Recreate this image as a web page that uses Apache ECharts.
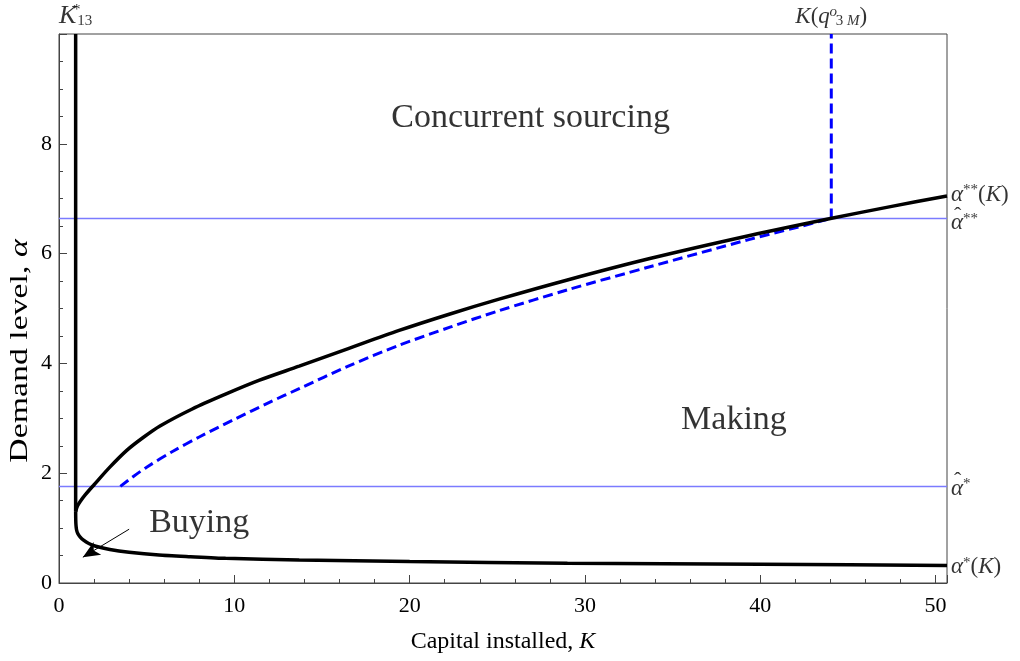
<!DOCTYPE html>
<html>
<head>
<meta charset="utf-8">
<script src="https://cdn.jsdelivr.net/npm/echarts@6/dist/echarts.min.js"></script>
<style>html,body{margin:0;padding:0;background:#fff}#c{width:1020px;height:661px}</style>
</head>
<body>
<div id="c"></div>
<script>
// ---- data ----
const xTickLabels = ['0', '10', '20', '30', '40', '50'];
const yTickLabels = ['0', '2', '4', '6', '8'];
const kMax = 50.65;
const alphaMax = 10;
const k13Star = 0.95;
const kq3M = 44.05;
const alphaHatStar = 1.76;
const alphaHatStarStar = 6.64;

// upper boundary alpha**(K)
const alphaStarStarCurve = [
  [0.95, 1.30], [1.05, 1.40], [1.2, 1.48], [1.48, 1.60], [2.0, 1.79], [2.9, 2.11],
  [3.88, 2.42], [4.8, 2.65], [5.76, 2.86], [7.6, 3.17], [9.5, 3.44], [11.4, 3.69],
  [13.7, 3.95], [16.5, 4.27], [19.4, 4.60], [22.3, 4.90], [25.1, 5.17], [29, 5.52],
  [33.7, 5.91], [39.4, 6.33], [44, 6.64], [47.5, 6.86], [50.65, 7.05]
];
// lower boundary alpha*(K)
const alphaStarCurve = [
  [0.95, 1.30], [0.955, 1.15], [0.97, 1.05], [1.0, 0.97], [1.07, 0.90], [1.2, 0.84],
  [1.4, 0.78], [1.7, 0.72], [2.1, 0.67], [2.9, 0.61], [4, 0.56], [5.7, 0.51],
  [7.5, 0.48], [9.5, 0.45], [13.7, 0.42], [20, 0.39], [29, 0.36], [40, 0.34], [50.65, 0.32]
];
// dashed blue curve
const qMCurve = [
  [3.5, 1.76], [4.2, 1.93], [5, 2.11], [6.5, 2.40], [8, 2.66], [10, 2.98], [12, 3.29],
  [13.7, 3.54], [16.5, 3.95], [19.4, 4.33], [22.3, 4.66], [25.1, 4.96], [29, 5.34],
  [33.7, 5.76], [39.4, 6.26], [42, 6.47], [44, 6.64]
];
// region labels [K, alpha, text]
const regionLabels = [
  [26.9, 8.47, 'Concurrent sourcing'],
  [38.5, 2.96, 'Making'],
  [8.0, 1.09, 'Buying']
];
// arrow from "Buying" label: start point, arrowhead centre
const buyingArrow = [[4.0, 0.98], [1.36, 0.47]];

const SERIF = 'Liberation Serif, Times New Roman, serif';
const rich = {
  i: { fontFamily: SERIF, fontStyle: 'italic', fontSize: 23, color: '#000', lineHeight: 24 },
  n: { fontFamily: SERIF, fontSize: 23, color: '#000', lineHeight: 24 },
  sup: { fontFamily: SERIF, fontSize: 15, color: '#000', verticalAlign: 'top', lineHeight: 14 },
  supz: { fontFamily: SERIF, fontSize: 15, color: '#000', verticalAlign: 'top', lineHeight: 14, width: 1 },
  supq: { fontFamily: SERIF, fontStyle: 'italic', fontSize: 15, color: '#000', verticalAlign: 'top', lineHeight: 14, width: 1, padding: [0, 0, 0, 3] },
  sub: { fontFamily: SERIF, fontSize: 15, color: '#000', verticalAlign: 'bottom', lineHeight: 12 },
  subq: { fontFamily: SERIF, fontSize: 15, color: '#000', verticalAlign: 'bottom', lineHeight: 12, padding: [0, 0, 0, 2] },
  subi: { fontFamily: SERIF, fontStyle: 'italic', fontSize: 15, color: '#000', verticalAlign: 'bottom', lineHeight: 12 },
  ib: { fontFamily: SERIF, fontStyle: 'italic', fontSize: 26, color: '#000', lineHeight: 26 }
};

const chart = echarts.init(document.getElementById('c'), null, { renderer: 'canvas' });

const lineBase = { type: 'line', showSymbol: false, symbol: 'none', animation: false, silent: true };

function buildOption(arrowRotate) {
  return {
    animation: false,
    backgroundColor: '#fff',
    grid: { left: 59, right: 73, top: 34, bottom: 78, show: true, borderColor: '#444', borderWidth: 1, backgroundColor: 'transparent' },
    xAxis: [{
      type: 'value', min: 0, max: kMax, interval: 10, position: 'bottom',
      axisLine: { show: true, lineStyle: { color: '#444', width: 1 } },
      axisTick: { show: true, inside: true, length: 8, lineStyle: { color: '#444', width: 1 } },
      axisLabel: {
        color: '#000', fontFamily: SERIF, fontSize: 22, margin: 12,
        formatter: v => { const i = xTickLabels.indexOf(String(v)); return i >= 0 ? xTickLabels[i] : ''; }
      },
      splitLine: { show: false },
      name: 'Capital installed, {i|K}', nameLocation: 'middle', nameGap: 47,
      nameTextStyle: { color: '#000', fontFamily: SERIF, fontSize: 24, rich: { i: { fontFamily: SERIF, fontStyle: 'italic', fontSize: 24, color: '#000' } } }
    }, {
      type: 'value', min: 0, max: kMax, interval: 2, position: 'bottom',
      axisLine: { show: false },
      axisTick: { show: true, inside: true, length: 4, lineStyle: { color: '#444', width: 1 } },
      axisLabel: { show: false }, splitLine: { show: false }
    }],
    yAxis: [{
      type: 'value', min: 0, max: alphaMax, interval: 2,
      axisLine: { show: true, lineStyle: { color: '#444', width: 1 } },
      axisTick: { show: true, inside: true, length: 8, lineStyle: { color: '#444', width: 1 } },
      minorTick: { show: true, splitNumber: 4, length: 4, lineStyle: { color: '#444', width: 1 } },
      axisLabel: {
        color: '#000', fontFamily: SERIF, fontSize: 22, margin: 7,
        formatter: v => { const i = yTickLabels.indexOf(String(v)); return i >= 0 ? yTickLabels[i] : ''; }
      },
      splitLine: { show: false }, minorSplitLine: { show: false }
    }],
    graphic: [{
      type: 'text', x: 20, y: 351, rotation: Math.PI / 2, scaleX: 1.3,
      style: {
        text: 'Demand level, {i|α}', align: 'center', verticalAlign: 'middle',
        font: '26px ' + SERIF, fill: '#000',
        rich: { i: { fontFamily: SERIF, fontStyle: 'italic', fontSize: 26, fill: '#000' } }
      }
    }],
    series: [
      Object.assign({}, lineBase, { name: 'alphaHatStar', data: [[0, alphaHatStar], [kMax, alphaHatStar]], lineStyle: { color: '#7b7bff', width: 1.5 }, z: 2 }),
      Object.assign({}, lineBase, { name: 'alphaHatStarStar', data: [[0, alphaHatStarStar], [kMax, alphaHatStarStar]], lineStyle: { color: '#7b7bff', width: 1.5 }, z: 2 }),
      Object.assign({}, lineBase, { name: 'qM', data: qMCurve, smooth: 0.3, lineStyle: { color: '#0000ff', width: 3, type: [10, 5] }, z: 3 }),
      Object.assign({}, lineBase, { name: 'Kq3M', data: [[kq3M, alphaHatStarStar], [kq3M, alphaMax]], lineStyle: { color: '#0000ff', width: 3, type: [10, 5] }, z: 3 }),
      Object.assign({}, lineBase, { name: 'alphaStarStar', data: alphaStarStarCurve, smooth: 0.3, lineStyle: { color: '#000', width: 3.5 }, z: 4 }),
      Object.assign({}, lineBase, { name: 'alphaStar', data: alphaStarCurve, smooth: 0.2, lineStyle: { color: '#000', width: 3.5 }, z: 4 }),
      Object.assign({}, lineBase, { name: 'K13', data: [[k13Star, 1.30], [k13Star, alphaMax]], lineStyle: { color: '#000', width: 3.5 }, z: 4 }),
      {
        type: 'line', silent: true, animation: false, z: 5, showSymbol: true,
        lineStyle: { color: '#000', width: 1 },
        itemStyle: { color: '#000' },
        data: [
          { value: buyingArrow[0], symbol: 'none' },
          { value: buyingArrow[1], symbol: 'arrow', symbolSize: [11, 17], symbolRotate: arrowRotate }
        ]
      },
      {
        type: 'scatter', symbolSize: 0, silent: true, animation: false, z: 6, clip: false,
        data: regionLabels.map(r => ({ value: [r[0], r[1]], name: r[2] })),
        label: { show: true, position: 'inside', formatter: p => p.name, color: '#000', fontFamily: SERIF, fontSize: 34 }
      },
      {
        type: 'scatter', symbolSize: 0, silent: true, animation: false, z: 6, clip: false,
        data: [
          { value: [k13Star, alphaMax], label: { formatter: '{ib|K}{supz|*}{sub|13}' } },
          { value: [kq3M, alphaMax], label: { formatter: '{i|K}{n|(}{i|q}{supq|o}{subq|3 }{subi|M}{n|)}' } }
        ],
        label: { show: true, position: 'top', distance: 5, rich: rich }
      },
      {
        type: 'scatter', symbolSize: 0, silent: true, animation: false, z: 6, clip: false,
        data: [
          { value: [kMax, 7.07], label: { formatter: '{i|α}{sup|**}{n|(}{i|K}{n|)}' } },
          { value: [kMax, 6.55], label: { formatter: '{i|α}{sup|**}' } },
          { value: [kMax, 1.72], label: { formatter: '{i|α}{sup|*}' } },
          { value: [kMax, 0.29], label: { formatter: '{i|α}{sup|*}{n|(}{i|K}{n|)}' } }
        ],
        label: { show: true, position: 'right', distance: 4, align: 'left', rich: rich }
      },
      {
        // circumflex accents of the hatted labels
        type: 'scatter', symbolSize: 0, silent: true, animation: false, z: 6, clip: false,
        data: [[kMax, 6.55], [kMax, 1.72]],
        label: { show: true, position: 'right', distance: 7, offset: [0, -7], formatter: 'ˆ', color: '#000', fontFamily: SERIF, fontSize: 22 }
      }
    ]
  };
}

chart.setOption(buildOption(0));
// orient arrowhead along the arrow's on-screen direction
const p0 = chart.convertToPixel({ gridIndex: 0 }, buyingArrow[0]);
const p1 = chart.convertToPixel({ gridIndex: 0 }, buyingArrow[1]);
const theta = Math.atan2(-(p1[1] - p0[1]), p1[0] - p0[0]) * 180 / Math.PI;
chart.setOption(buildOption(theta - 90), true);
</script>
</body>
</html>
